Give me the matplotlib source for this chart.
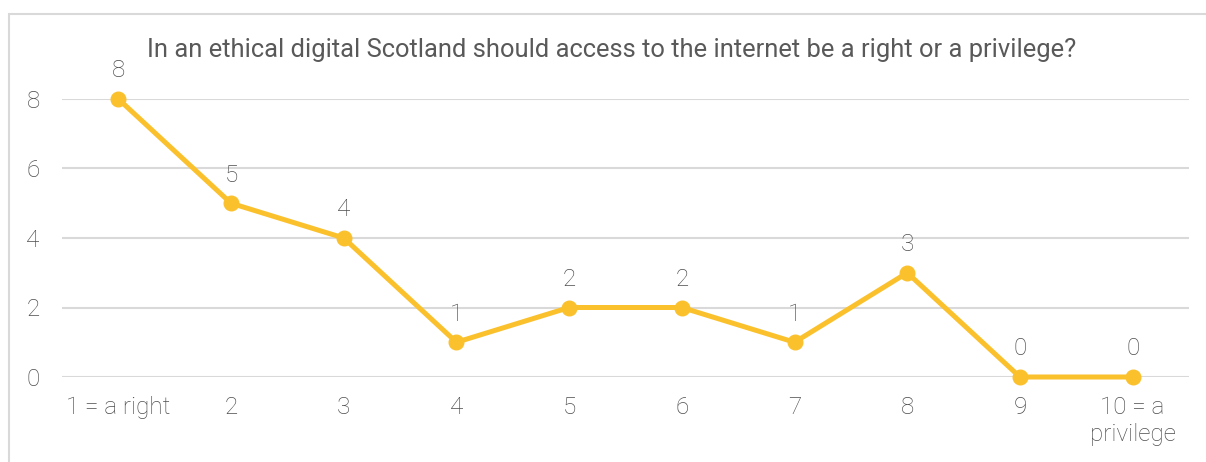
import matplotlib.pyplot as plt
from matplotlib.patches import Rectangle

# survey answers on a 1-10 scale, count of responses per option
categories = ['1 = a right', '2', '3', '4', '5', '6', '7', '8', '9', '10 = a\nprivilege']
counts = [8, 5, 4, 1, 2, 2, 1, 3, 0, 0]
y_ticks = [0, 2, 4, 6, 8]

title = 'In an ethical digital Scotland should access to the internet be a right or a privilege?'

line_color = '#FBC12D'
text_color = '#595959'
label_color = '#4D4D4D'  # light weight renders paler, so go a touch darker
grid_color = '#D9D9D9'

plt.rcParams['font.family'] = ['Roboto', 'DejaVu Sans']

fig = plt.figure(figsize=(12.06, 4.62), dpi=100)
ax = fig.add_axes([62 / 1206, 1 - 377 / 462, 1127 / 1206, 278 / 462])

# light frame around the whole chart, running off the right and bottom edges
fig.patches.append(Rectangle((8.5 / 1206, -0.1), 1.2, 1 - 14 / 462 + 0.1,
                             transform=fig.transFigure, fill=False,
                             edgecolor=grid_color, linewidth=1.5))

x = list(range(1, len(counts) + 1))
ax.plot(x, counts, color=line_color, linewidth=3.6, marker='o',
        markersize=10.5, clip_on=False, zorder=3)

for xi, c in zip(x, counts):
    ax.annotate(str(c), (xi, c), xytext=(0, 12), textcoords='offset points',
                ha='center', va='bottom', fontsize=17.5, color=label_color,
                fontweight='light')

ax.set_xlim(0.5, len(counts) + 0.5)
ax.set_ylim(0, 8)
ax.set_yticks(y_ticks)
ax.set_xticks(x)
ax.set_xticklabels(categories)
ax.grid(axis='y', color=grid_color, linewidth=1.5)
ax.set_axisbelow(True)
for s in ax.spines.values():
    s.set_visible(False)
ax.tick_params(length=0, labelsize=17.5, labelcolor=label_color)
ax.tick_params(axis='y', pad=16)
ax.tick_params(axis='x', pad=14)
for lab in ax.get_xticklabels() + ax.get_yticklabels():
    lab.set_fontweight('light')
for lab in ax.get_xticklabels():
    lab.set_linespacing(1.2)
    lab.set_verticalalignment('top')

fig.text(612 / 1206, 1 - 50 / 462, title, ha='center', va='center',
         fontsize=18.4, color=text_color)

fig.savefig('out.png', dpi=100)
